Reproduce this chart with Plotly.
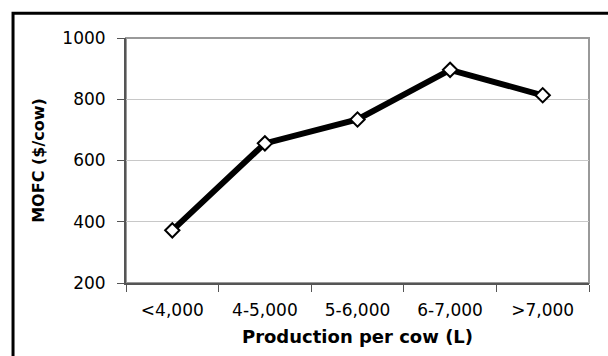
import plotly.graph_objects as go

categories = ["<4,000", "4-5,000", "5-6,000", "6-7,000", ">7,000"]
mofc = [372, 656, 734, 896, 813]

fig = go.Figure()
fig.add_trace(go.Scatter(
    x=categories, y=mofc, mode="lines+markers",
    line=dict(color="black", width=6),
    marker=dict(symbol="diamond", size=11, color="white",
                line=dict(color="black", width=2)),
    showlegend=False, hoverinfo="skip",
))

tickfont = dict(family="DejaVu Sans", size=17, color="black")
fig.update_layout(
    width=608, height=356,
    margin=dict(l=126, r=19, t=38, b=71),
    paper_bgcolor="white", plot_bgcolor="white",
    font=dict(family="DejaVu Sans", color="black", size=14),
    xaxis=dict(
        range=[-0.5, len(categories) - 0.5],
        tickson="boundaries", ticks="outside", ticklen=7, tickcolor="#555",
        showline=True, linecolor="#555", linewidth=2, mirror=False,
        showgrid=False, tickfont=tickfont, ticklabelstandoff=11,
        title=dict(text="<b>Production per cow (L)</b>",
                   font=dict(family="DejaVu Sans", size=18), standoff=11),
    ),
    yaxis=dict(
        range=[200, 1000], dtick=200, ticks="outside", ticklen=7, tickcolor="#555",
        showline=True, linecolor="#555", linewidth=2,
        showgrid=True, gridcolor="#c8c8c8", gridwidth=1,
        tickfont=tickfont, zeroline=False, ticklabelstandoff=8,
        title=dict(text="<b>MOFC ($/cow)</b>",
                   font=dict(family="DejaVu Sans", size=16), standoff=14),
    ),
    shapes=[
        dict(type="rect", xref="paper", yref="paper", x0=0, x1=1, y0=0, y1=1,
             line=dict(color="#999", width=2), layer="below"),
        dict(type="rect", xref="paper", yref="paper", x0=-0.244, x1=1.2, y0=-0.5, y1=1.101,
             line=dict(color="black", width=3)),
    ],
)

fig.write_html("out.html", config={"displayModeBar": False},
               post_script="document.body.style.margin='0';")
